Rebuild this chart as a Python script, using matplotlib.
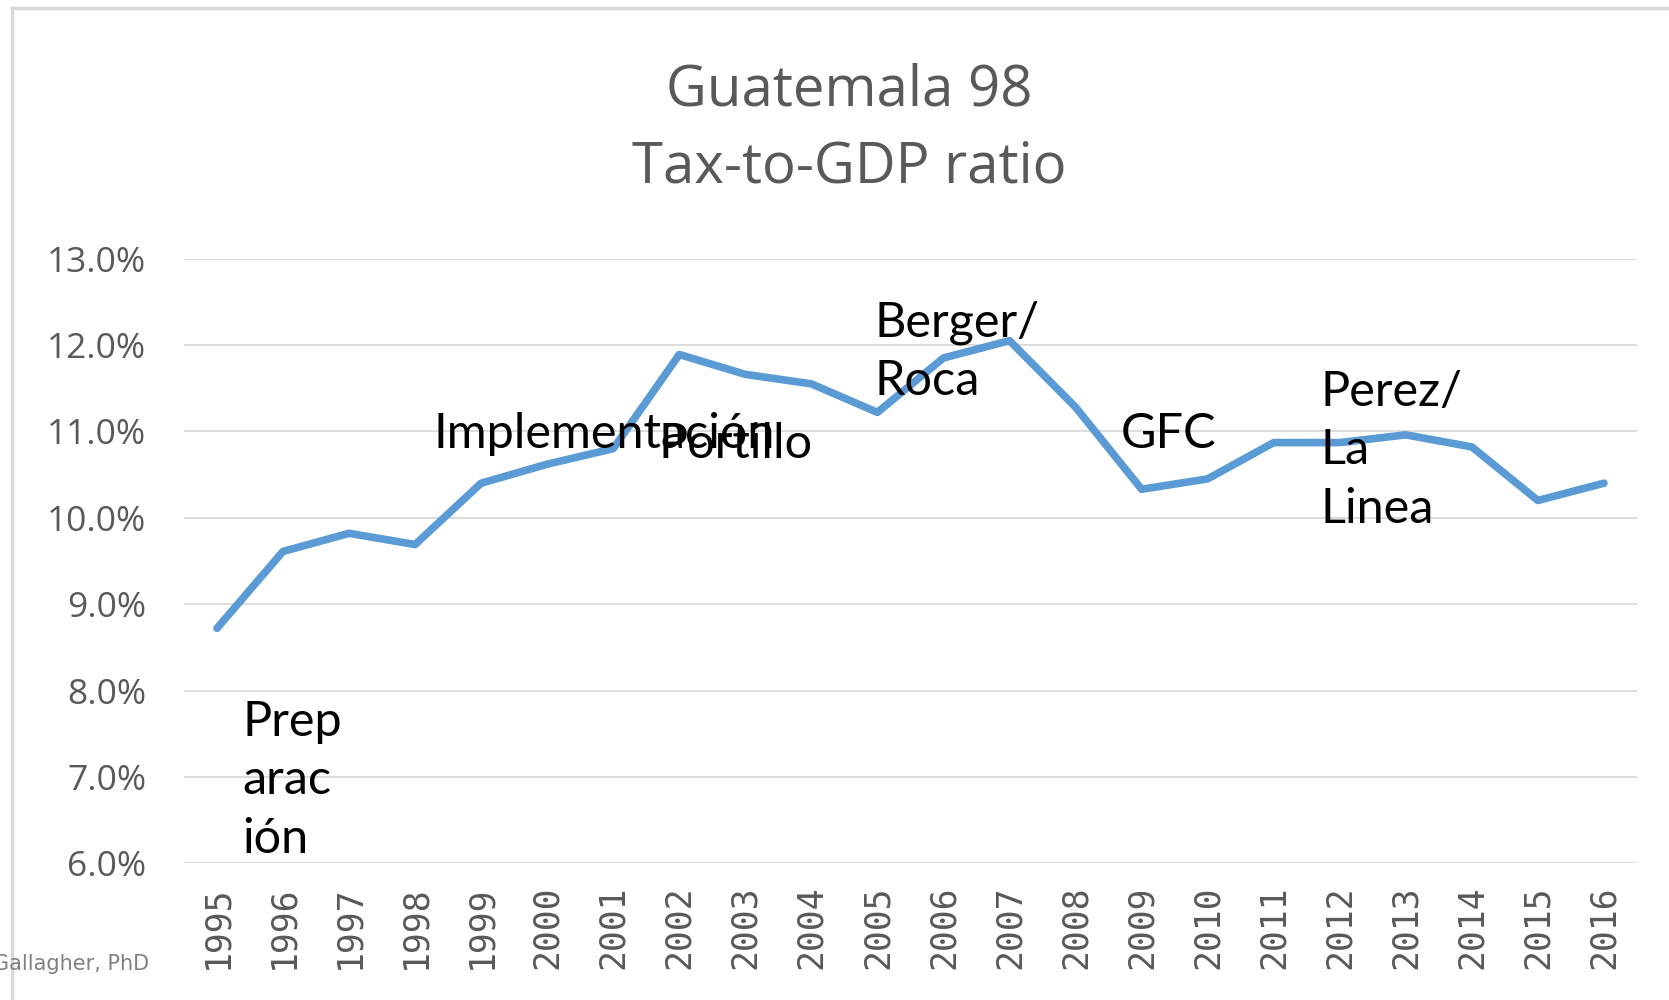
import matplotlib
matplotlib.use('Agg')
import matplotlib.pyplot as plt
from matplotlib.lines import Line2D
from matplotlib.ticker import FuncFormatter, MultipleLocator

years = ['1995', '1996', '1997', '1998', '1999', '2000', '2001', '2002', '2003', '2004', '2005',
         '2006', '2007', '2008', '2009', '2010', '2011', '2012', '2013', '2014', '2015', '2016']
tax_ratio = [8.72, 9.61, 9.82, 9.69, 10.40, 10.62, 10.80, 11.89, 11.66, 11.55, 11.22,
             11.85, 12.05, 11.28, 10.33, 10.45, 10.87, 10.87, 10.96, 10.82, 10.20, 10.40]

# period labels: text, x (category index), y (value) of the text block centre
periods = ['Prep\narac\nión', 'Implementación', 'Portillo', 'Berger/\nRoca', 'GFC', 'Perez/\nLa\nLinea']
period_x = [0.39, 3.28, 6.68, 9.96, 13.69, 16.71]
period_y = [6.96, 10.97, 10.85, 11.92, 10.97, 10.78]

fig = plt.figure(figsize=(16.69, 10), dpi=100)
ax = fig.add_axes([0.1102, 0.1367, 0.8706, 0.6047])

x = range(len(years))
ax.plot(x, tax_ratio, color='#5B9BD5', lw=5.5, solid_joinstyle='round', solid_capstyle='round', zorder=3)

ax.set_xlim(-0.5, len(years) - 0.5)
ax.set_ylim(6, 13)
ax.yaxis.set_major_locator(MultipleLocator(1))
ax.yaxis.set_major_formatter(FuncFormatter(lambda v, p: f'{v:.1f}%'))
ax.set_xticks(list(x))
ax.set_xticklabels(years, rotation=90, family='DejaVu Sans Mono', fontsize=25, color='#595959')
for lab in ax.get_yticklabels():
    lab.set_family('Open Sans')
    lab.set_fontsize(25.5)
    lab.set_color('#595959')
ax.tick_params(axis='y', length=0, pad=27)
ax.tick_params(axis='x', length=0, pad=16)
ax.grid(axis='y', color='#D9D9D9', lw=1.3, zorder=0)
ax.set_axisbelow(True)
for s in ax.spines.values():
    s.set_visible(False)

for txt, px, py in zip(periods, period_x, period_y):
    ax.text(px, py, txt, ha='left', va='center', fontsize=35, family='Lato',
            color='black', linespacing=1.4, zorder=4)

# title
fig.text(0.509, 1 - 91 / 1000, 'Guatemala 98', ha='center', va='center',
         fontsize=40.5, family='Open Sans', color='#595959')
fig.text(0.509, 1 - 168 / 1000, 'Tax-to-GDP ratio', ha='center', va='center',
         fontsize=40.5, family='Open Sans', color='#595959')

# chart frame (top and left edges visible)
fig.add_artist(Line2D([0.0072, 1.0], [0.992, 0.992], color='#D9D9D9', lw=2.5, transform=fig.transFigure))
fig.add_artist(Line2D([0.0072, 0.0072], [0.0, 0.992], color='#D9D9D9', lw=2.5, transform=fig.transFigure))

# footer from slide
fig.text(149 / 1669, 0.036, 'Gallagher, PhD', ha='right', va='center',
         fontsize=15, family='DejaVu Sans', color='#808080')

fig.savefig('out.png', dpi=100)
